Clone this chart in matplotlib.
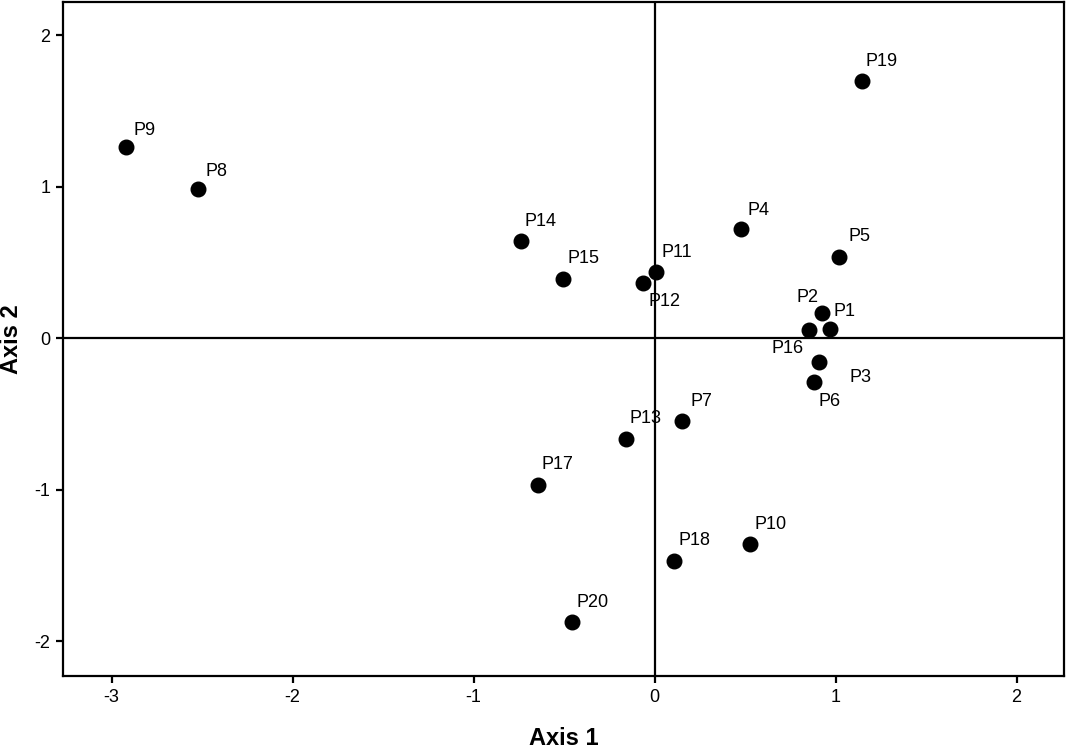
import matplotlib
matplotlib.use('Agg')
import matplotlib.pyplot as plt

plt.rcParams['font.family'] = ['Liberation Sans', 'DejaVu Sans']
plt.rcParams['axes.unicode_minus'] = False

# 데이터 (그림에서 읽은 좌표)
labels = ['P1', 'P2', 'P3', 'P4', 'P5', 'P6', 'P7', 'P8', 'P9', 'P10',
          'P11', 'P12', 'P13', 'P14', 'P15', 'P16', 'P17', 'P18', 'P19', 'P20']
axis1 = [0.97, 0.925, 0.91, 0.48, 1.02, 0.88, 0.15, -2.52, -2.92, 0.53,
         0.01, -0.065, -0.16, -0.74, -0.505, 0.855, -0.645, 0.11, 1.145, -0.455]
axis2 = [0.06, 0.165, -0.16, 0.72, 0.535, -0.29, -0.55, 0.985, 1.26, -1.36,
         0.435, 0.365, -0.665, 0.64, 0.39, 0.055, -0.97, -1.47, 1.695, -1.875]

x_ticks = [-3, -2, -1, 0, 1, 2]
y_ticks = [-2, -1, 0, 1, 2]

# 라벨 위치 (픽셀 오프셋, 기본은 오른쪽 위)
default_off = (20, 20)
label_off = {
    'P1': (14, 17), 'P2': (-14, 16), 'P3': (41, -15), 'P6': (16, -20),
    'P12': (22, -19), 'P16': (-22, -19), 'P4': (17, 18), 'P8': (18, 17),
    'P9': (19, 17),
}

fig = plt.figure(figsize=(10.66, 7.52), dpi=100)
ax = fig.add_axes([63/1066, 1 - 676/752, (1064-63)/1066, (676-2)/752])

ax.axhline(0, color='black', linewidth=1.6, zorder=1)
ax.axvline(0, color='black', linewidth=1.6, zorder=1)
ax.scatter(axis1, axis2, s=110, color='black', zorder=3)

for name, x, y in zip(labels, axis1, axis2):
    dx, dy = label_off.get(name, default_off)
    ax.annotate(name, (x, y), xytext=(dx * 0.72, dy * 0.72), textcoords='offset points',
                ha='center', va='center', fontsize=13)

ax.set_xlim(-3.268, 2.262)
ax.set_ylim(-2.231, 2.218)
ax.set_xticks(x_ticks)
ax.set_yticks(y_ticks)
ax.tick_params(axis='both', length=5, width=1.6, labelsize=13, pad=4)
for sp in ax.spines.values():
    sp.set_linewidth(1.6)

fig.text(564/1066, 7/752, 'Axis 1', ha='center', va='baseline',
         fontsize=17, fontweight='bold')
fig.text(12/1066, 1 - 339/752, 'Axis 2', ha='center', va='center',
         rotation=90, fontsize=17, fontweight='bold')

fig.savefig('out.png', dpi=100)
